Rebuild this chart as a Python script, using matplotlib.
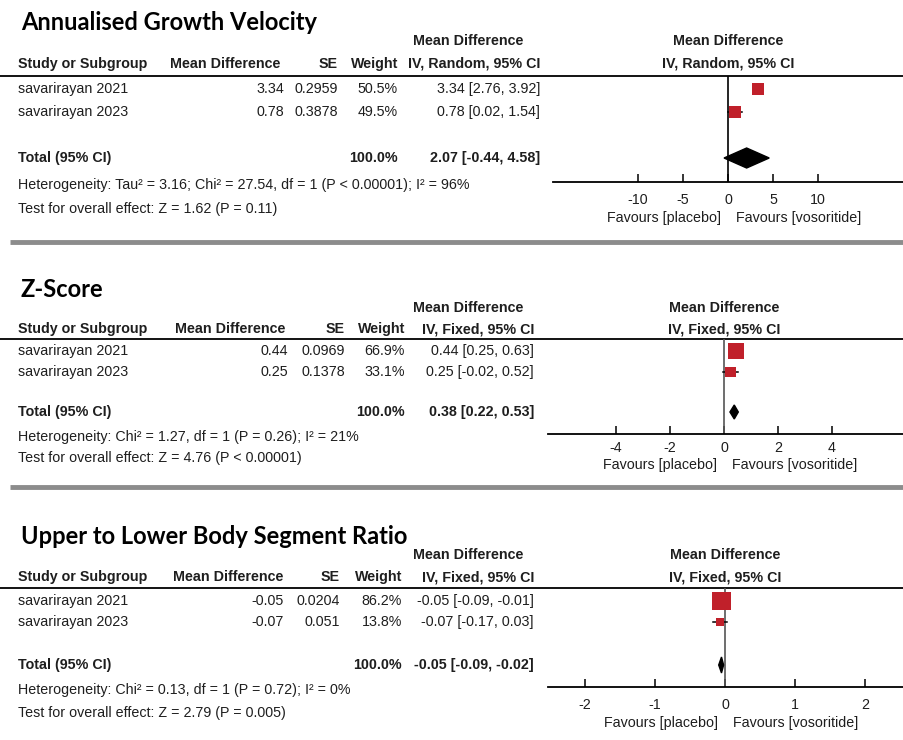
import matplotlib
matplotlib.use("Agg")
import matplotlib.pyplot as plt
from matplotlib.patches import Polygon

plt.rcParams['font.family'] = ['Liberation Sans', 'DejaVu Sans']

# ---- data ----
studies = ["savarirayan 2021", "savarirayan 2023"]

agv_md = [3.34, 0.78]
agv_se = ["0.2959", "0.3878"]
agv_w = [50.5, 49.5]
agv_lo = [2.76, 0.02]
agv_hi = [3.92, 1.54]
agv_total = [2.07, -0.44, 4.58]
agv_het = "Heterogeneity: Tau\u00b2 = 3.16; Chi\u00b2 = 27.54, df = 1 (P < 0.00001); I\u00b2 = 96%"
agv_test = "Test for overall effect: Z = 1.62 (P = 0.11)"
agv_ticks = [-10, -5, 0, 5, 10]

z_md = [0.44, 0.25]
z_se = ["0.0969", "0.1378"]
z_w = [66.9, 33.1]
z_lo = [0.25, -0.02]
z_hi = [0.63, 0.52]
z_total = [0.38, 0.22, 0.53]
z_het = "Heterogeneity: Chi\u00b2 = 1.27, df = 1 (P = 0.26); I\u00b2 = 21%"
z_test = "Test for overall effect: Z = 4.76 (P < 0.00001)"
z_ticks = [-4, -2, 0, 2, 4]

ul_md = [-0.05, -0.07]
ul_se = ["0.0204", "0.051"]
ul_w = [86.2, 13.8]
ul_lo = [-0.09, -0.17]
ul_hi = [-0.01, 0.03]
ul_total = [-0.05, -0.09, -0.02]
ul_het = "Heterogeneity: Chi\u00b2 = 0.13, df = 1 (P = 0.72); I\u00b2 = 0%"
ul_test = "Test for overall effect: Z = 2.79 (P = 0.005)"
ul_ticks = [-2, -1, 0, 1, 2]

# ---- figure in pixel units ----
W, H = 904, 740
fig = plt.figure(figsize=(W / 100, H / 100), dpi=100)
bg = fig.add_axes([0, 0, 1, 1])
bg.set_xlim(0, W)
bg.set_ylim(H, 0)
bg.axis('off')

FS = 10.3
TXT = '#1e1e1e'
RED = '#C0202A'
title_font = dict(family=['Lato', 'DejaVu Sans'], fontweight='bold', fontsize=17, color='black')


def t(x, y, s, ha='left', bold=False, **kw):
    bg.text(x, y, s, ha=ha, va='center', fontsize=FS, color=TXT,
            fontweight='bold' if bold else 'normal', **kw)


def fmt(v):
    return f"{v:.2f}"


def panel(title, ys, method, md, se, w, lo, hi, total, het, test, ticks,
          cols, fx0, zero_x, ppu, sq_k, dia_h, zero_col):
    top, hdr, line, r1, r2, tot, axis_y, het_y, test_y, fav_y, tpad = ys
    rows = [r1, r2]
    c_md, c_se, c_w, c_ci, c_mdh = cols

    bg.text(21, top - 11, title, ha='left', va='baseline', **title_font)

    t(468, top, "Mean Difference", ha='center', bold=True)
    t(18, hdr, "Study or Subgroup", bold=True)
    t(c_mdh, hdr, "Mean Difference", bold=True)
    t(c_se, hdr, "SE", ha='right', bold=True)
    t(c_w, hdr, "Weight", ha='right', bold=True)
    t(c_ci, hdr, method, ha='right', bold=True)
    bg.plot([0, W], [line, line], color='black', lw=1.3, solid_capstyle='butt')

    for i, y in enumerate(rows):
        t(18, y, studies[i])
        t(c_md, y, fmt(md[i]), ha='right')
        t(c_se, y, se[i], ha='right')
        t(c_w, y, f"{w[i]:.1f}%", ha='right')
        t(c_ci, y, f"{fmt(md[i])} [{fmt(lo[i])}, {fmt(hi[i])}]", ha='right')

    t(18, tot, "Total (95% CI)", bold=True)
    t(c_w, tot, "100.0%", ha='right', bold=True)
    t(c_ci, tot, f"{fmt(total[0])} [{fmt(total[1])}, {fmt(total[2])}]", ha='right', bold=True)
    t(18, het_y, het)
    t(18, test_y, test)

    # right-hand headers
    t(zero_x, top, "Mean Difference", ha='center', bold=True)
    t(zero_x, hdr, method, ha='center', bold=True)

    # forest axes: x in data units, y in figure pixels
    ax = fig.add_axes([fx0 / W, 1 - axis_y / H, (W - fx0) / W, (axis_y - line) / H])
    ax.set_xlim((fx0 - zero_x) / ppu, (W - zero_x) / ppu)
    ax.set_ylim(axis_y, line)
    ax.patch.set_alpha(0)
    for s in ['top', 'left', 'right']:
        ax.spines[s].set_visible(False)
    ax.spines['bottom'].set_linewidth(1.3)
    ax.set_yticks([])
    ax.set_xticks(ticks, [str(v) for v in ticks])
    ax.tick_params(axis='x', direction='in', length=6, width=1.1, pad=tpad,
                   labelsize=FS, labelcolor=TXT)
    ax.axvline(0, color=zero_col, lw=1.2)

    for i, y in enumerate(rows):
        ax.plot([lo[i], hi[i]], [y, y], color='black', lw=1.1)
        side = sq_k * w[i] ** 0.5
        ax.scatter([md[i]], [y], marker='s', s=(side * 0.72) ** 2,
                   color=RED, edgecolors='none', zorder=3)

    est, l, h = total
    ax.add_patch(Polygon([(l, tot), (est, tot - dia_h / 2), (h, tot), (est, tot + dia_h / 2)],
                         closed=True, color='black', zorder=3))

    t(zero_x - 7, fav_y, "Favours [placebo]", ha='right')
    t(zero_x + 8, fav_y, "Favours [vosoritide]", ha='left')


panel("Annualised Growth Velocity",
      (41, 64, 76, 89, 112, 158, 182, 185, 209, 218, 8),
      "IV, Random, 95% CI",
      agv_md, agv_se, agv_w, agv_lo, agv_hi, agv_total, agv_het, agv_test, agv_ticks,
      (284, 338, 398, 540, 170), 553, 728, 9.0, 1.75, 20, 'black')

panel("Z-Score",
      (308, 329, 339, 351, 372, 412, 434, 437, 458, 465, 5),
      "IV, Fixed, 95% CI",
      z_md, z_se, z_w, z_lo, z_hi, z_total, z_het, z_test, z_ticks,
      (288, 345, 405, 534, 175), 548, 724, 27.0, 1.9, 14, '#555555')

panel("Upper to Lower Body Segment Ratio",
      (555, 577, 588, 601, 622, 665, 687, 690, 713, 723, 8),
      "IV, Fixed, 95% CI",
      ul_md, ul_se, ul_w, ul_lo, ul_hi, ul_total, ul_het, ul_test, ul_ticks,
      (284, 340, 402, 534, 173), 548, 725, 70.0, 1.95, 16, '#555555')

# gray separators between panels
for y in [242, 487]:
    bg.plot([10, W], [y, y], color='#8c8c8c', lw=3.5, solid_capstyle='butt')

fig.savefig("out.png", dpi=100)
